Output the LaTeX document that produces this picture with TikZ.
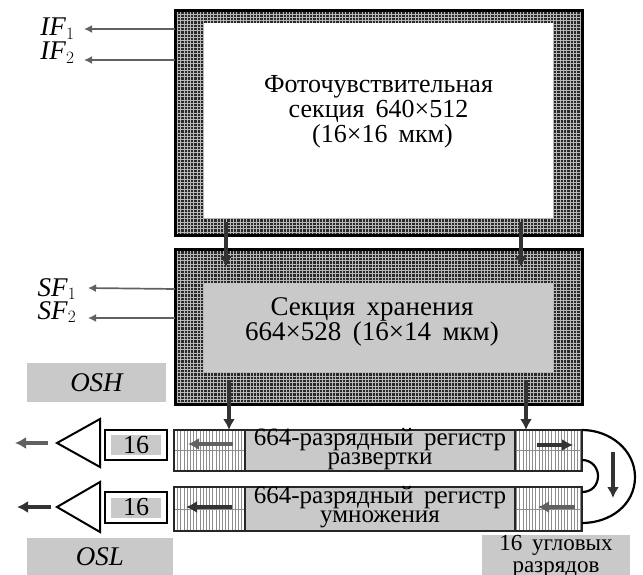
\documentclass[tikz,border=0pt]{standalone}
\usepackage{fontspec}
\setmainfont[WordSpace=1.7]{Liberation Serif}
\usepackage{xcolor}
\usetikzlibrary{arrows.meta,positioning}
\definecolor{plate}{gray}{0.79}
\definecolor{hatchdark}{gray}{0.16}
\definecolor{hatchlight}{gray}{0.72}
\definecolor{greyarrow}{gray}{0.38}

\begin{document}
\begin{tikzpicture}[
      x=1pt, y=-1pt,
      >={Latex[length=11pt,width=12pt]},
      font=\fontsize{26}{25}\selectfont,
      every node/.style={inner sep=0pt, outer sep=0pt},
      mesh/.style={draw=black, line width=3pt, fill=hatchdark, path picture={
        \draw[hatchlight, line width=0.6pt, step=3.3pt]
        (path picture bounding box.south west) grid
        (path picture bounding box.north east);}},
      stripes/.style={draw=black!85, line width=1.6pt, fill=white, path picture={
        \draw[black!45, line width=0.5pt, xstep=3.2pt, ystep=500pt]
        (path picture bounding box.south west) grid
        (path picture bounding box.north east);}},
      plain/.style={fill=plate, align=center},
      regbody/.style={plain, draw=black!85, line width=1.6pt},
      regtext/.style={align=center, font=\fontsize{25}{18.5}\selectfont},
      countbox/.style={draw=black, line width=2.4pt, fill=white},
      countfill/.style={fill=plate, minimum width=50pt, minimum height=20pt},
      amp/.style={draw=black, line width=2pt, line join=miter, fill=white},
      flow/.style={->, line width=3.6pt, black!80},
      thinflow/.style={->, line width=1.7pt, greyarrow, >={Latex[length=8pt,width=8pt]}},
      loopline/.style={line width=2.2pt, black},
      clock/.style={anchor=base, font=\fontsize{27}{27}\selectfont}
    ]
    \useasboundingbox (0,0) rectangle (643,575);

    % image section
    \node[mesh, minimum width=407pt, minimum height=224pt] (imagebox) at (378.5,123) {};
    \node[fill=white, minimum width=349pt, minimum height=195pt] (imageinner) at (378.5,120.5) {};
    \node[align=center] (imagetext) at (378.5,112) {Фоточувствительная\\секция 640×512\\\hspace*{8pt}(16×16 мкм)};

    % storage section
    \node[mesh, minimum width=407pt, minimum height=155pt] (storebox) at (378.5,326.5) {};
    \node[plain, minimum width=349pt, minimum height=89pt] (storeinner) at (378.5,327.5) {};
    \node[align=center, font=\fontsize{27}{25}\selectfont] (storetext) at (372,322)
    {Секция хранения\\664×528 (16×14 мкм)};

    \coordinate (imgL) at (226,222);
    \coordinate (imgR) at (521,222);
    \coordinate (stoL) at (226,267);
    \coordinate (stoR) at (521,267);
    \draw[flow] (imgL) -- (stoL);
    \draw[flow] (imgR) -- (stoR);

    % clock labels
    \node[clock] (iff) at (57.5,36) {\textit{IF}$_1$};
    \node[clock] (ifs) at (57.5,60) {\textit{IF}$_2$};
    \node[clock] (sff) at (57,296) {\textit{SF}$_1$};
    \node[clock] (sfs) at (57,319) {\textit{SF}$_2$};
    \draw[thinflow] (imagebox.west |- 0,29) -- (84,29);
    \draw[thinflow] (imagebox.west |- 0,60) -- (84,60);
    \draw[thinflow] (storebox.west |- 0,289) -- (88,288);
    \draw[thinflow] (storebox.west |- 0,318) -- (88,318);
    \node[plain, minimum width=139pt, minimum height=39pt, font=\fontsize{27}{27}\selectfont\itshape] (osh) at (96.5,382.5) {OSH};
    \node[plain, minimum width=146pt, minimum height=37pt, font=\fontsize{27}{27}\selectfont\itshape] (osl) at (100,556.5) {OSL};

    % registers
    \node[regbody, minimum width=408pt, minimum height=41pt] (scanreg) at (378,450.5) {};
    \node[stripes, minimum width=71pt, minimum height=41pt] (scanL) at (209.5,450.5) {};
    \node[stripes, minimum width=67pt, minimum height=41pt] (scanR) at (548.5,450.5) {};
    \node[regbody, minimum width=408pt, minimum height=44pt] (multreg) at (378,509) {};
    \node[stripes, minimum width=71pt, minimum height=44pt] (multL) at (209.5,509) {};
    \node[stripes, minimum width=67pt, minimum height=44pt] (multR) at (548.5,509) {};
    \node[regtext] (scantext) at (380,449) {664-разрядный регистр\\развертки};
    \node[regtext] (multtext) at (380,507) {664-разрядный регистр\\умножения};

    \coordinate (stoOutL) at (229,380);
    \coordinate (stoOutR) at (526,380);
    \draw[flow] (stoOutL) -- (stoOutL |- scanL.north);
    \draw[flow] (stoOutR) -- (stoOutR |- scanR.north);

    \coordinate (a) at (233,444);
    \coordinate (b) at (188,444);
    \coordinate (c) at (232,507);
    \coordinate (d) at (186,507);
    \coordinate (e) at (537,445);
    \coordinate (f) at (573,445);
    \coordinate (g) at (575,507);
    \coordinate (h) at (538,507);
    \draw[flow, greyarrow] (a) -- (b);
    \draw[flow] (c) -- (d);
    \draw[flow] (e) -- (f);
    \draw[flow, greyarrow] (g) -- (h);

    % return loops
    \coordinate (outerA) at (582,430);
    \coordinate (outerB) at (582,523);
    \coordinate (innerA) at (582,460);
    \coordinate (innerB) at (582,492);
    \coordinate (downA) at (613,452);
    \coordinate (downB) at (613,498);
    \draw[loopline] (outerA) .. controls (610,430) and (635,450) .. (635,477)
      .. controls (635,505) and (610,523) .. (outerB);
    \draw[loopline] (innerA) .. controls (592,460) and (598,468) .. (598,476)
      .. controls (598,485) and (592,492) .. (innerB);
    \draw[flow] (downA) -- (downB);

    % output stages
    \node[countbox, minimum width=62pt, minimum height=30pt] (cntA) at (136,445) {};
    \node[countfill] (cntAfill) at (136,445) {16};
    \node[countbox, minimum width=62pt, minimum height=31pt] (cntB) at (136,507.5) {};
    \node[countfill] (cntBfill) at (136,507.5) {16};
    \draw[amp] (100,419) -- (57,443) -- (100,467) -- cycle;
    \draw[amp] (100,482) -- (57,507) -- (100,532) -- cycle;
    \coordinate (ampA) at (48,443);
    \coordinate (ampB) at (51,507);
    \coordinate (outA) at (15,443);
    \coordinate (outB) at (17,507);
    \draw[flow, greyarrow] (ampA) -- (outA);
    \draw[flow] (ampB) -- (outB);

    \node[plain, minimum width=148pt, minimum height=38pt, font=\fontsize{23}{22}\selectfont]
    (anglebits) at (556,556) {16 угловых\\разрядов};
  \end{tikzpicture}
\end{document}
